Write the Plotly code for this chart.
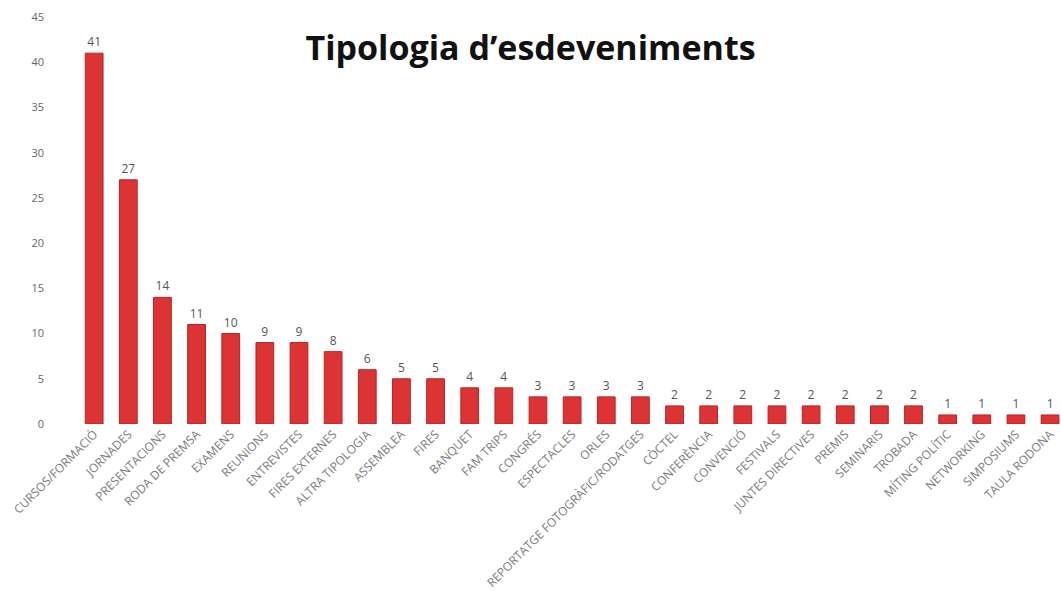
import plotly.graph_objects as go

categories = ["CURSOS/FORMACIÓ", "JORNADES", "PRESENTACIONS", "RODA DE PREMSA", "EXAMENS",
              "REUNIONS", "ENTREVISTES", "FIRES EXTERNES", "ALTRA TIPOLOGIA", "ASSEMBLEA",
              "FIRES", "BANQUET", "FAM TRIPS", "CONGRÉS", "ESPECTACLES", "ORLES",
              "REPORTATGE FOTOGRÀFIC/RODATGES", "CÒCTEL", "CONFERÈNCIA", "CONVENCIÓ",
              "FESTIVALS", "JUNTES DIRECTIVES", "PREMIS", "SEMINARIS", "TROBADA",
              "MÍTING POLÍTIC", "NETWORKING", "SIMPOSIUMS", "TAULA RODONA"]
values = [41, 27, 14, 11, 10, 9, 9, 8, 6, 5, 5, 4, 4, 3, 3, 3, 3, 2, 2, 2, 2, 2, 2, 2, 2, 1, 1, 1, 1]
y_ticks = [0, 5, 10, 15, 20, 25, 30, 35, 40, 45]

fig = go.Figure(go.Bar(
    x=list(range(len(categories))), y=values,
    text=[str(v) for v in values], textposition="outside",
    textfont=dict(size=12, color="#555555", family="Open Sans"),
    marker=dict(color="#dc3434", line=dict(color="#b52424", width=1)),
    width=0.52, cliponaxis=False,
))

fig.update_layout(
    width=1061, height=591,
    margin=dict(l=45, r=0, t=17, b=167),
    paper_bgcolor="white", plot_bgcolor="white",
    showlegend=False,
    title=dict(text="<b>Tipologia d’esdeveniments</b>", x=0.5, xanchor="center",
               y=0.918, yanchor="middle",
               font=dict(family="Open Sans", size=34, color="#111111")),
    xaxis=dict(tickmode="array", tickvals=list(range(len(categories))), ticktext=categories,
               tickangle=-45, range=[-1.44, 28.32], showgrid=False, showline=False,
               zeroline=False, ticks="",
               tickfont=dict(family="Open Sans", size=12, color="#7a7a7a")),
    yaxis=dict(range=[0, 45], tickvals=y_ticks, showgrid=False, zeroline=False,
               showline=False, ticks="",
               tickfont=dict(family="Open Sans", size=11, color="#666666")),
)

fig.write_html("out.html")
